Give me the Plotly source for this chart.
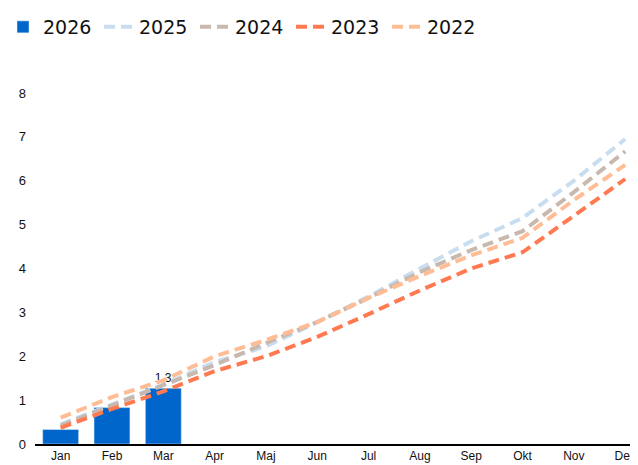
import plotly.graph_objects as go

months = ["Jan", "Feb", "Mar", "Apr", "Maj", "Jun", "Jul", "Aug", "Sep", "Okt", "Nov", "Dec"]
y2026 = [0.33, 0.83, 1.27]
y2025 = [0.45, 0.90, 1.35, 1.87, 2.22, 2.78, 3.36, 4.00, 4.62, 5.15, 6.00, 6.95]
y2024 = [0.42, 0.88, 1.32, 1.80, 2.30, 2.78, 3.33, 3.92, 4.42, 4.85, 5.74, 6.67]
y2023 = [0.37, 0.80, 1.20, 1.66, 2.00, 2.44, 2.96, 3.50, 4.00, 4.37, 5.20, 6.04]
y2022 = [0.60, 1.07, 1.45, 2.00, 2.37, 2.78, 3.33, 3.83, 4.30, 4.70, 5.56, 6.36]

labels2026 = ["" for _ in y2026[:-1]] + [f"{y2026[-1]:.1f}".replace(".", ",")]

fig = go.Figure()
fig.add_trace(go.Bar(
    x=months[:len(y2026)], y=y2026, name="2026",
    marker_color="#0066CC", width=0.7,
    text=labels2026, textposition="outside",
    textfont=dict(size=12, color="#111111"), cliponaxis=False,
))
line_series = [
    ("2025", y2025, "#C9DDF0"),
    ("2024", y2024, "#C8B8AE"),
    ("2023", y2023, "#FF7A50"),
    ("2022", y2022, "#FFBD96"),
]
for name, vals, col in line_series:
    fig.add_trace(go.Scatter(
        x=months, y=vals, name=name, mode="lines",
        line=dict(color=col, width=4, dash="11px,6px"),
    ))

fig.update_layout(
    width=630, height=457,
    margin=dict(l=27, r=0, t=85, b=21),
    paper_bgcolor="white", plot_bgcolor="white",
    font=dict(family="Liberation Sans, Arial, sans-serif", color="#111111"),
    showlegend=True,
    legend=dict(
        orientation="h", xref="container", yref="container",
        x=0, y=1, xanchor="left", yanchor="top",
        font=dict(size=19, family="DejaVu Sans, sans-serif"),
        entrywidth=56, entrywidthmode="pixels", indentation=-5,
        traceorder="normal",
    ),
    bargap=0.3,
)
fig.update_xaxes(
    type="category", categoryorder="array", categoryarray=months,
    range=[-0.5, 11.25], showline=True, linecolor="black", linewidth=2,
    showgrid=False, ticks="", tickfont=dict(size=12), automargin=False,
)
fig.update_yaxes(
    range=[0, 8], dtick=1, showgrid=False, zeroline=False, showline=False,
    tickfont=dict(size=13), ticklabelstandoff=8, automargin=False,
)
fig.write_html("out.html")
